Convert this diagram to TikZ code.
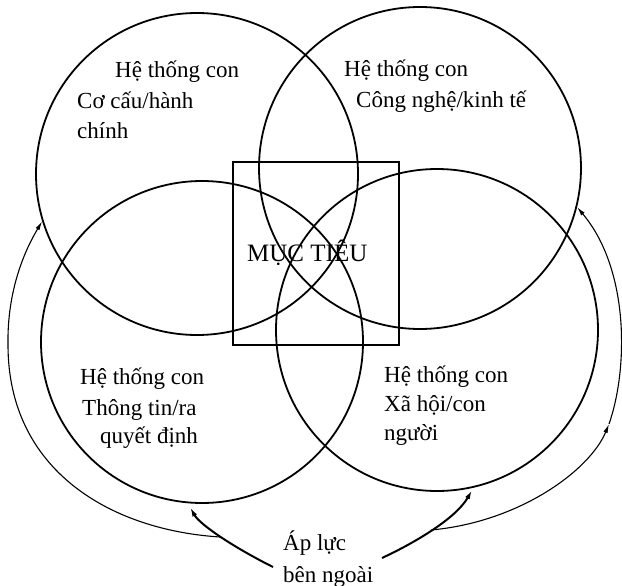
\documentclass[tikz,border=0pt]{standalone}
\usepackage{fontspec}
\setmainfont{Liberation Serif}
\usetikzlibrary{arrows.meta}
\begin{document}
\begin{tikzpicture}[x=1pt,y=-1pt,
  sub/.style={circle,draw,line width=1.8pt,minimum size=322pt,inner sep=0pt},
  goalbox/.style={draw,line width=2.4pt,minimum width=166pt,minimum height=183pt,inner sep=0pt},
  lbl/.style={anchor=base west,inner sep=0pt,font=\fontsize{23}{27}\selectfont},
  goallbl/.style={anchor=base west,inner sep=0pt,font=\fontsize{25}{29}\selectfont},
  ringline/.style={line width=1.1pt},
  ringarrow/.style={line width=1.1pt,-{Latex[length=9pt,width=4.5pt]}},
  pointer/.style={line width=2pt,-{Latex[length=10pt,width=5pt]}}]
\useasboundingbox (0,0) rectangle (622,586);

% four sub-systems
\node[sub] (tl) at (197,174) {};
\node[sub] (tr) at (420,168) {};
\node[sub] (bl) at (202,342) {};
\node[sub] (br) at (437,330) {};

% goal box
\node[goalbox] (goal) at (316,253.5) {};
\node[goallbl] (goaltext) at (247,261) {MỤC TIÊU};

% labels
\node[lbl] (tla) at (115,78) {Hệ thống con};
\node[lbl] (tlb) at (77,109) {Cơ cấu/hành};
\node[lbl] (tlc) at (77,139) {chính};

\node[lbl] (tra) at (344,77) {Hệ thống con};
\node[lbl] (trb) at (356,107) {Công nghệ/kinh tế};

\node[lbl] (bla) at (80,384) {Hệ thống con};
\node[lbl] (blb) at (82,415) {Thông tin/ra};
\node[lbl] (blc) at (100,443) {quyết định};

\node[lbl] (bra) at (384,382) {Hệ thống con};
\node[lbl] (brb) at (384,411) {Xã hội/con};
\node[lbl] (brc) at (384,440) {người};

\node[lbl] (pa) at (283,550) {Áp lực};
\node[lbl] (pb) at (283,582) {bên ngoài};

% arrows
\coordinate (s1) at (273,567);
\coordinate (j1) at (220,537);
\coordinate (s2) at (382,558);
\coordinate (j2) at (431,530);
\coordinate (m2) at (609,424);
\coordinate (l1) at (8,345);

\draw[pointer,shorten >=4pt] (s1) .. controls (235,548) and (200,525) .. (bl.265);
\draw[pointer,shorten >=2pt] (s2) .. controls (410,545) and (455,520) .. (br.283);

\draw[ringline] (j1) .. controls (110,530) and (8,470) .. (l1);
\draw[ringarrow] (l1) .. controls (7,290) and (25,250) .. (tl.197);

\draw[ringarrow] (j2) .. controls (520,522) and (590,470) .. (m2);
\draw[ringarrow] (m2) .. controls (628,370) and (630,270) .. (tr.346);
\end{tikzpicture}
\end{document}
